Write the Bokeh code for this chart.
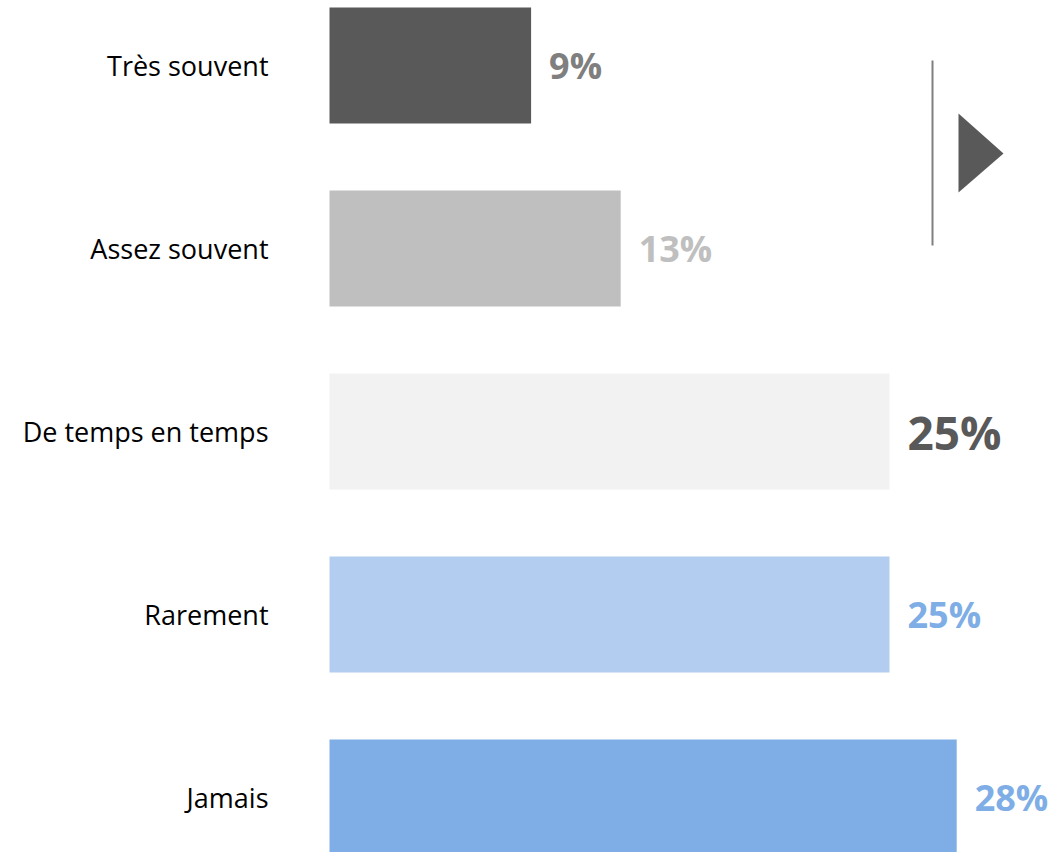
from bokeh.plotting import figure
from bokeh.models import Range1d, ColumnDataSource
from bokeh.core.properties import value
from bokeh.embed import file_html
from bokeh.resources import INLINE

categories = ["Très souvent", "Assez souvent", "De temps en temps", "Rarement", "Jamais"]
values = [9, 13, 25, 25, 28]
labels = ["9%", "13%", "25%", "25%", "28%"]
bar_colors = ["#595959", "#bfbfbf", "#f2f2f2", "#b2cdf0", "#7eaee5"]
label_colors = ["#7f7f7f", "#bfbfbf", "#595959", "#7eaee5", "#7eaee5"]
label_sizes = ["36px", "36px", "46px", "36px", "36px"]

W, H = 1053, 852
PX_PER_UNIT = 22.4
ROW = 183.0
x0 = -329 / PX_PER_UNIT
y_top = -65 / ROW

p = figure(width=W, height=H, output_backend="svg", toolbar_location=None,
           x_range=Range1d(x0, x0 + W / PX_PER_UNIT),
           y_range=Range1d(y_top + H / ROW, y_top),
           min_border=0, min_border_left=0, min_border_right=0,
           min_border_top=0, min_border_bottom=0)
p.axis.visible = False
p.grid.visible = False
p.outline_line_color = None
p.background_fill_color = "white"

idx = list(range(len(categories)))
src = ColumnDataSource(dict(y=idx, v=values, cat=categories, lab=labels,
                            bc=bar_colors, lc=label_colors, ls=label_sizes))

p.hbar(y="y", left=0, right="v", height=116 / ROW, fill_color="bc",
       line_color=None, source=src)

p.text(x=0, y="y", text="cat", x_offset=-61, text_align="right",
       text_baseline="middle", text_font=value("Open Sans"),
       text_font_size="27px", text_color="#000000", source=src)

p.text(x="v", y="y", text="lab", x_offset=18, text_align="left",
       text_baseline="middle", text_font=value("Open Sans"),
       text_font_style="bold", text_font_size="ls", text_color="lc", source=src)

# decoration: separator line and arrow
p.segment(x0=[26.92], y0=[-0.027], x1=[26.92], y1=[0.984],
          line_color="#7f7f7f", line_width=2)
p.patch(x=[28.08, 30.09, 28.08], y=[0.262, 0.481, 0.694],
        fill_color="#595959", line_color=None)

open("out.html", "w").write(file_html(p, INLINE))
